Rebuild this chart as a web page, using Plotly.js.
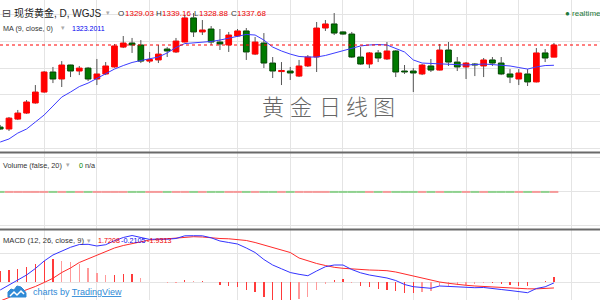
<!DOCTYPE html>
<html>
<head>
<meta charset="utf-8">
<script src="https://cdn.plot.ly/plotly-3.0.1.min.js"></script>
<style>html,body{margin:0;padding:0;background:#fff;}#chart{width:600px;height:300px;}</style>
</head>
<body>
<div id="chart"></div>
<script>
// ---- data (daily spot gold, WGJS) ----
const open  = [1279.1,1277.7,1284.8,1289.1,1296.3,1304.1,1318.4,1313.4,1323.4,1319.1,
               1321.2,1313.4,1317.0,1322.0,1336.2,1339.1,1337.7,1326.2,1327.0,1334.8,
               1332.7,1339.8,1357.0,1347.0,1349.1,1339.8,1337.7,1344.1,1347.7,1331.2,
               1339.1,1324.8,1318.7,1319.1,1315.5,1322.7,1329.1,1349.8,1352.7,1347.0,
               1345.5,1329.1,1324.1,1332.0,1327.7,1333.4,1319.1,1319.1,1317.0,1322.7,
               1319.8,1334.1,1325.5,1322.0,1324.1,1322.7,1327.0,1324.8,1317.0,1313.4,
               1317.0,1311.3,1332.0,1329.03];
const high  = [1280.6,1286.3,1291.3,1298.4,1309.1,1319.1,1322.0,1326.2,1323.6,1322.7,
               1322.0,1327.7,1325.5,1338.4,1344.1,1342.7,1341.2,1332.7,1337.7,1336.2,
               1342.7,1359.1,1360.5,1355.5,1351.2,1349.1,1347.0,1349.1,1349.8,1343.4,
               1346.2,1329.1,1325.5,1322.0,1327.0,1330.5,1354.1,1355.5,1360.5,1347.5,
               1347.0,1336.2,1332.7,1334.1,1339.8,1334.1,1323.4,1321.2,1324.1,1327.7,
               1338.4,1339.8,1329.1,1325.5,1324.8,1328.4,1329.1,1329.1,1320.5,1320.5,
               1320.5,1335.5,1334.8,1339.16];
const low   = [1277.0,1276.3,1284.1,1288.5,1295.8,1303.6,1310.5,1307.7,1314.8,1316.2,
               1312.0,1309.1,1316.2,1321.5,1335.5,1332.0,1324.8,1324.8,1324.8,1329.1,
               1332.0,1339.5,1343.4,1344.8,1337.7,1334.1,1332.7,1343.4,1327.0,1330.5,
               1321.2,1314.1,1309.1,1312.7,1314.8,1322.0,1318.4,1347.7,1344.8,1344.8,
               1328.4,1323.4,1321.2,1325.5,1327.0,1314.8,1317.0,1304.1,1316.2,1318.4,
               1319.5,1322.7,1319.1,1313.4,1315.5,1314.8,1322.7,1316.2,1310.5,1309.1,
               1308.4,1311.0,1325.5,1328.88];
const close = [1277.7,1285.5,1289.1,1297.0,1304.1,1318.4,1313.4,1323.4,1319.1,1321.2,
               1313.4,1317.0,1322.7,1337.0,1339.1,1337.7,1326.2,1327.3,1331.2,1333.4,
               1340.5,1357.0,1347.0,1348.4,1339.8,1338.4,1344.8,1347.7,1332.7,1339.8,
               1324.8,1319.1,1319.5,1317.7,1322.7,1329.1,1349.8,1352.7,1346.2,1345.5,
               1329.1,1324.1,1332.0,1328.4,1333.4,1318.4,1318.4,1317.7,1323.4,1319.8,
               1334.1,1325.5,1322.0,1324.8,1323.4,1327.0,1324.8,1317.0,1314.8,1317.7,
               1311.3,1332.0,1328.4,1337.68];
const ma9   = [1268.4,1270.6,1274.8,1277.7,1282.7,1287.7,1294.1,1300.5,1304.1,1308.0,
               1310.5,1313.8,1317.7,1320.5,1323.0,1325.2,1326.6,1327.7,1329.1,1332.0,
               1335.9,1338.7,1339.1,1339.5,1340.2,1341.2,1342.7,1344.1,1345.2,1344.8,
               1341.2,1336.2,1333.4,1331.2,1329.5,1329.1,1329.1,1330.2,1332.0,1333.4,
               1335.5,1337.0,1337.7,1338.0,1337.7,1335.2,1332.7,1327.0,1324.8,1324.5,
               1324.1,1324.1,1323.7,1323.4,1323.7,1324.1,1323.7,1323.4,1322.7,1321.6,
               1320.5,1322.0,1323.0,1323.2011];
const volume = [0,0,0,0,0,0,0,0,0,0, 0,0,0,0,0,0,0,0,0,0, 0,0,0,0,0,0,0,0,0,0,
                0,0,0,0,0,0,0,0,0,0, 0,0,0,0,0,0,0,0,0,0, 0,0,0,0,0,0,0,0,0,0, 0,0,0,0];
const macd  = [-2.63,-0.92,0.96,2.49,4.71,7.27,9.32,10.68,11.95,12.90,
               12.97,12.39,12.83,14.20,15.29,15.97,15.19,14.64,14.78,14.71,
               14.95,15.87,15.90,15.87,15.19,14.10,13.58,13.07,11.71,10.17,
               7.78,5.90,4.61,3.34,2.73,2.25,3.86,5.32,5.90,5.90,
               4.37,3.24,2.49,1.98,1.47,0.61,-0.75,-1.50,-1.84,-2.05,
               -1.26,-1.43,-1.71,-1.77,-1.84,-1.77,-2.01,-2.46,-2.80,-3.24,
               -3.55,-2.12,-1.54,-0.2105];
const signal = [-6.38,-5.19,-3.65,-2.63,-1.43,-0.07,1.37,3.34,4.88,6.76,
               7.95,9.15,10.34,11.71,12.56,13.24,13.82,14.44,14.61,14.85,
               15.05,15.22,15.56,15.46,15.12,14.95,14.85,14.61,14.27,13.58,
               12.73,11.88,11.19,10.17,8.29,7.27,6.42,5.73,5.12,4.78,
               4.54,4.37,4.20,4.10,3.96,3.52,2.83,2.25,1.47,0.78,
               0.10,-0.34,-0.75,-1.02,-1.26,-1.43,-1.67,-1.84,-1.98,-2.12,
               -2.22,-2.24,-2.10,-1.9313];
const hist  = [3.75,4.27,4.61,5.12,6.14,7.34,7.95,7.34,7.07,6.14,
               5.02,3.24,2.49,2.49,2.73,2.73,1.37,0.20,0.17,-0.14,
               -0.10,0.65,0.34,0.41,0.07,-0.85,-1.27,-1.54,-2.56,-3.41,
               -4.95,-5.98,-6.58,-6.83,-5.56,-5.02,-2.56,-0.41,0.78,1.12,
               -0.17,-1.13,-1.71,-2.12,-2.49,-2.91,-3.58,-3.75,-3.31,-2.83,
               -1.36,-1.09,-0.96,-0.75,-0.58,-0.34,-0.34,-0.62,-0.82,-1.12,
               -1.33,0.12,0.56,1.7208];

// ---- derived ----
const n = close.length;
const idx = close.map((_, i) => i);
const last = n - 1;
const isUp = close.map((c, i) => c >= open[i]);

const UP = '#ff0000', DN = '#007a00', DNL = '#004400';

const wx = [], wy = [];
for (let i = 0; i < n; i++) {
  const top = Math.max(open[i], close[i]), bot = Math.min(open[i], close[i]);
  wx.push(i, i, null, i, i, null);
  wy.push(high[i], top, null, bot, low[i], null);
}
const bodyBase = idx.map(i => Math.min(open[i], close[i]));
const bodyH = idx.map(i => Math.max(Math.abs(close[i] - open[i]), 0.0001));

const vux = [], vuy = [], vdx = [], vdy = [];
for (let i = 0; i < n; i++) {
  const X = isUp[i] ? vux : vdx, Y = isUp[i] ? vuy : vdy;
  X.push(i - 0.5, i + 0.5, null); Y.push(volume[i], volume[i], null);
}
const histColor = hist.map((h, i) => (i > 0 && Math.abs(h) < Math.abs(hist[i - 1])) ? '#ff9a9a' : '#ff3a3a');

// ---- helpers for page-level positions ----
const W = 600, H = 300;
const px = v => v / W, py = v => 1 - v / H;
const FONT = 'Liberation Sans, Arial, Noto Sans CJK SC, sans-serif';

const traces = [
  {type:'scatter', mode:'lines', x:wx, y:wy, xaxis:'x', yaxis:'y', line:{color:'#555555', width:1}, hoverinfo:'skip', connectgaps:false},
  {type:'bar', x:idx, base:bodyBase, y:bodyH, width:0.65, xaxis:'x', yaxis:'y',
   marker:{color:isUp.map(u => u ? UP : DN), line:{color:isUp.map(u => u ? UP : DNL), width:1}}, hoverinfo:'skip'},
  {type:'scatter', mode:'lines', x:idx, y:ma9, xaxis:'x', yaxis:'y', line:{color:'#3c3cff', width:1}, hoverinfo:'skip'},
  {type:'scatter', mode:'lines', x:vux, y:vuy, xaxis:'x2', yaxis:'y2', line:{color:'#f59a9a', width:2}, hoverinfo:'skip', connectgaps:false},
  {type:'scatter', mode:'lines', x:vdx, y:vdy, xaxis:'x2', yaxis:'y2', line:{color:'#8fd18f', width:2}, hoverinfo:'skip', connectgaps:false},
  {type:'bar', x:idx, y:hist, width:0.14, xaxis:'x3', yaxis:'y3', marker:{color:histColor, line:{width:0}}, hoverinfo:'skip'},
  {type:'scatter', mode:'lines', x:idx, y:signal, xaxis:'x3', yaxis:'y3', line:{color:'#ff2a2a', width:1}, hoverinfo:'skip'},
  {type:'scatter', mode:'lines', x:idx, y:macd, xaxis:'x3', yaxis:'y3', line:{color:'#3333ff', width:1}, hoverinfo:'skip'}
];

const XR = [-0.023, 68.24];
const GRID = '#e4e4e4';
const xbase = {range:XR, showticklabels:false, ticks:'', zeroline:false, showline:false,
  showgrid:true, gridcolor:GRID, gridwidth:1, tickmode:'array', tickvals:[5,11,17,27,33,39,47,53,59,65], fixedrange:true};
const ybase = {showticklabels:false, ticks:'', zeroline:false, showline:false, showgrid:true, gridcolor:GRID, gridwidth:1, tickmode:'array', fixedrange:true};

function ann(x, y, text, size, color, extra) {
  return Object.assign({xref:'paper', yref:'paper', x:px(x), y:py(y), xanchor:'left', yanchor:'middle',
    text:text, showarrow:false, font:{family:FONT, size:size, color:color}}, extra || {});
}
function pathOf(pts, closed) {
  return pts.map((p, i) => (i ? 'L' : 'M') + px(p[0]).toFixed(5) + ',' + py(p[1]).toFixed(5)).join(' ') + (closed ? ' Z' : '');
}

const f2 = v => v.toFixed(2);
const annotations = [
  ann(0, 13, '⊟', 11, '#444', {font:{family:'DejaVu Sans, sans-serif', size:11, color:'#444'}}),
  ann(12, 13, '现货黄金, D, WGJS', 10, '#222'),
  ann(104, 13, '▾', 7, '#aaaaaa', {font:{family:'DejaVu Sans, sans-serif', size:7, color:'#aaaaaa'}}),
  ann(116, 13, 'O', 8, '#333'), ann(123, 13, f2(open[last]), 8, '#ee0000'),
  ann(154, 13, 'H', 8, '#333'), ann(160, 13, f2(high[last]), 8, '#ee0000'),
  ann(192, 13, 'L', 8, '#333'), ann(197, 13, f2(low[last]), 8, '#ee0000'),
  ann(229, 13, 'C', 8, '#333'), ann(235, 13, f2(close[last]), 8, '#ee0000'),
  ann(1, 28, 'MA (9, close, 0)', 7.2, '#333'),
  ann(59, 28, '▾', 7, '#aaaaaa', {font:{family:'DejaVu Sans, sans-serif', size:7, color:'#aaaaaa'}}),
  ann(70, 28, ma9[last].toFixed(4), 7, '#0000ee'),
  ann(563, 14, '● realtime', 8, '#1e7a3a'),
  ann(1, 165, 'Volume (false, 20)', 7.3, '#333'),
  ann(64, 165, '▾', 7, '#aaaaaa', {font:{family:'DejaVu Sans, sans-serif', size:7, color:'#aaaaaa'}}),
  ann(77, 165, String(volume[last]), 7.3, '#008800'),
  ann(83, 165, 'n/a', 7.3, '#333'),
  ann(1, 240.5, 'MACD (12, 26, close, 9)', 7.6, '#333'),
  ann(85, 240.5, '▾', 7, '#aaaaaa', {font:{family:'DejaVu Sans, sans-serif', size:7, color:'#aaaaaa'}}),
  ann(96, 240.5, hist[last].toFixed(4), 7.2, '#ee0000'),
  ann(119, 240.5, macd[last].toFixed(4), 7.2, '#0000ee'),
  ann(145, 240.5, signal[last].toFixed(4), 7.2, '#ee0000'),
  ann(31, 292, 'charts by <u>TradingView</u>', 9, '#2f8ad6')
];
const wm = ['黄','金','日','线','图'];
const wmX = [273, 301, 330, 357, 384];
wm.forEach((ch, k) => annotations.push({xref:'paper', yref:'paper', x:px(wmX[k]), y:py(105), xanchor:'center', yanchor:'middle',
  text:ch, showarrow:false, font:{family:'Noto Sans CJK SC, sans-serif', size:22, color:'#666', weight:200}}));

const shapes = [
  {type:'line', xref:'paper', yref:'y', x0:0, x1:1, y0:close[last], y1:close[last], line:{color:'#ff0000', width:1, dash:'dot'}},
  {type:'line', xref:'paper', yref:'paper', x0:0, x1:1, y0:py(152.5), y1:py(152.5), line:{color:'#6a6a6a', width:2}},
  {type:'line', xref:'paper', yref:'paper', x0:0, x1:1, y0:py(229.5), y1:py(229.5), line:{color:'#6a6a6a', width:2}},
  {type:'path', xref:'paper', yref:'paper', path:pathOf([[8,297],[8,292],[11,289],[14,290],[17,286],[21,287],[24,290],[26,293],[26,297]], true),
   fillcolor:'#2f8ad6', line:{color:'#2f8ad6', width:1}},
  {type:'path', xref:'paper', yref:'paper', path:pathOf([[10,296],[14,292],[17,295],[21,291],[24,294]], false),
   line:{color:'#ffffff', width:1.5}}
];

const layout = {
  width:600, height:300, margin:{l:0, r:0, t:0, b:0, pad:0},
  paper_bgcolor:'#ffffff', plot_bgcolor:'#ffffff', showlegend:false, barmode:'overlay', bargap:0,
  font:{family:FONT, size:8, color:'#333'},
  xaxis:Object.assign({}, xbase, {anchor:'y', domain:[0,1]}),
  xaxis2:Object.assign({}, xbase, {anchor:'y2', domain:[0,1]}),
  xaxis3:Object.assign({}, xbase, {anchor:'y3', domain:[0,1]}),
  yaxis:Object.assign({}, ybase, {domain:[py(152), 1], range:[1261.3, 1369.8],
    tickvals:[1264.1, 1283.1, 1302.2, 1321.2, 1340.2, 1359.3]}),
  yaxis2:Object.assign({}, ybase, {domain:[py(229), py(153)], range:[-1, 1.05], tickvals:[-0.892, 0, 0.942]}),
  yaxis3:Object.assign({}, ybase, {domain:[0, py(230)], range:[-6.04, 17.85], tickvals:[0, 10]}),
  annotations:annotations, shapes:shapes
};

Plotly.newPlot('chart', traces, layout, {displayModeBar:false, staticPlot:true});
</script>
</body>
</html>
